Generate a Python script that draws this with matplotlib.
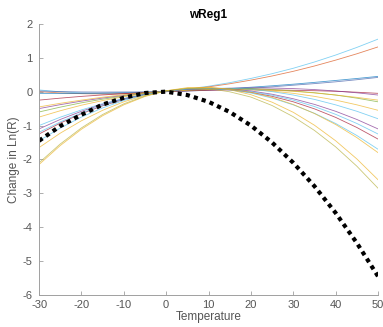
import matplotlib
matplotlib.use('Agg')
import matplotlib.pyplot as plt

plt.rcParams['font.family'] = ['Liberation Sans', 'DejaVu Sans']
plt.rcParams['axes.unicode_minus'] = False  # plain hyphen like the original

# temperature grid the curves were read at
temps = [-30, -25, -20, -15, -10, -5, 0, 5, 10, 15, 20, 25, 30, 35, 40, 45, 50]

# thin model curves
curves = [
    [0.05, -0.005, -0.04, -0.06, -0.06, -0.035, 0.01, 0.075, 0.16, 0.265, 0.39, 0.53, 0.69, 0.875, 1.08, 1.305, 1.55],
    [0.00, -0.038, -0.06, -0.068, -0.06, -0.033, 0.01, 0.067, 0.14, 0.232, 0.34, 0.462, 0.60, 0.757, 0.93, 1.117, 1.32],
    [-0.05, -0.052, -0.05, -0.042, -0.03, -0.017, 0.00, 0.028, 0.06, 0.093, 0.13, 0.173, 0.22, 0.273, 0.33, 0.388, 0.45],
    [0.02, 0.002, -0.01, -0.013, -0.01, -0.008, 0.00, 0.017, 0.04, 0.067, 0.10, 0.142, 0.19, 0.237, 0.29, 0.352, 0.42],
    [-0.25, -0.192, -0.14, -0.097, -0.06, -0.027, 0.00, 0.023, 0.04, 0.05, 0.055, 0.05, 0.04, 0.028, 0.01, -0.017, -0.05],
    [-0.50, -0.384, -0.28, -0.189, -0.11, -0.044, 0.01, 0.051, 0.08, 0.101, 0.11, 0.106, 0.09, 0.061, 0.02, -0.034, -0.10],
    [-0.60, -0.457, -0.33, -0.222, -0.13, -0.052, 0.01, 0.053, 0.08, 0.093, 0.09, 0.063, 0.02, -0.032, -0.10, -0.192, -0.30],
    [-0.45, -0.344, -0.25, -0.164, -0.09, -0.034, 0.01, 0.041, 0.06, 0.066, 0.06, 0.041, 0.01, -0.039, -0.10, -0.169, -0.25],
    [-0.75, -0.564, -0.40, -0.264, -0.15, -0.059, 0.01, 0.056, 0.08, 0.081, 0.06, 0.016, -0.05, -0.139, -0.25, -0.389, -0.55],
    [-1.00, -0.754, -0.54, -0.354, -0.20, -0.076, 0.016, 0.074, 0.10, 0.101, 0.07, 0.001, -0.10, -0.229, -0.39, -0.579, -0.80],
    [-1.10, -0.821, -0.58, -0.376, -0.21, -0.078, 0.016, 0.072, 0.09, 0.074, 0.02, -0.076, -0.21, -0.376, -0.58, -0.821, -1.10],
    [-1.25, -0.928, -0.65, -0.418, -0.23, -0.085, 0.017, 0.076, 0.09, 0.057, -0.02, -0.138, -0.30, -0.508, -0.76, -1.058, -1.40],
    [-1.20, -0.894, -0.63, -0.404, -0.22, -0.081, 0.017, 0.075, 0.09, 0.066, 0.00, -0.104, -0.25, -0.439, -0.67, -0.939, -1.25],
    [-1.45, -1.074, -0.75, -0.479, -0.26, -0.094, 0.02, 0.081, 0.09, 0.051, -0.04, -0.189, -0.39, -0.639, -0.94, -1.294, -1.70],
    [-1.65, -1.226, -0.86, -0.551, -0.30, -0.110, 0.022, 0.100, 0.12, 0.079, -0.02, -0.171, -0.38, -0.646, -0.97, -1.356, -1.80],
    [-2.15, -1.591, -1.11, -0.711, -0.39, -0.143, 0.027, 0.118, 0.13, 0.059, -0.09, -0.311, -0.61, -0.991, -1.45, -1.986, -2.60],
    [-2.10, -1.545, -1.07, -0.675, -0.36, -0.128, 0.024, 0.097, 0.09, -0.005, -0.16, -0.41, -0.74, -1.145, -1.63, -2.20, -2.85],
]
colors = ['#4DBEEE', '#D95319', '#0072BD', '#3F5BA8', '#A2142F', '#7E2F8E',
          '#77AC30', '#EDB120', '#EDB120', '#4DBEEE', '#7E2F8E', '#A2142F',
          '#4DBEEE', '#4DBEEE', '#EDB120', '#EDB120', '#B5B03C']

# mean curve (thick dotted)
mean_curve = [-1.45, -1.016, -0.68, -0.381, -0.18, -0.041, 0.0, -0.101, -0.30,
              -0.601, -1.00, -1.501, -2.10, -2.791, -3.58, -4.466, -5.45]

fig = plt.figure(figsize=(3.83, 3.27), dpi=100)
ax = fig.add_axes([0.102, 0.098, 0.885, 0.829])

for vals, c in zip(curves, colors):
    ax.plot(temps, vals, color=c, lw=0.6, alpha=0.7)
ax.plot(temps, mean_curve, color='black', lw=3, linestyle=(0, (1, 1)))

ax.set_xlim(-30, 50)
ax.set_ylim(-6, 2)
ax.set_xticks(range(-30, 51, 10))
ax.set_yticks(range(-6, 3))

for s in ['top', 'right']:
    ax.spines[s].set_visible(False)
for s in ['left', 'bottom']:
    ax.spines[s].set_color('#a0a0a0')
    ax.spines[s].set_linewidth(0.7)
ax.tick_params(direction='in', length=3, width=0.6, color='#a0a0a0',
               labelsize=8, labelcolor='#555555')
ax.tick_params(axis='y', pad=4.5)
ax.set_xlabel('Temperature', fontsize=8.5, color='#555555', labelpad=1)
ax.set_ylabel('Change in Ln(R)', fontsize=8.5, color='#555555', labelpad=2)
ax.set_title('wReg1', fontsize=8.5, fontweight='bold', pad=4)

fig.savefig('out.png', dpi=100)
